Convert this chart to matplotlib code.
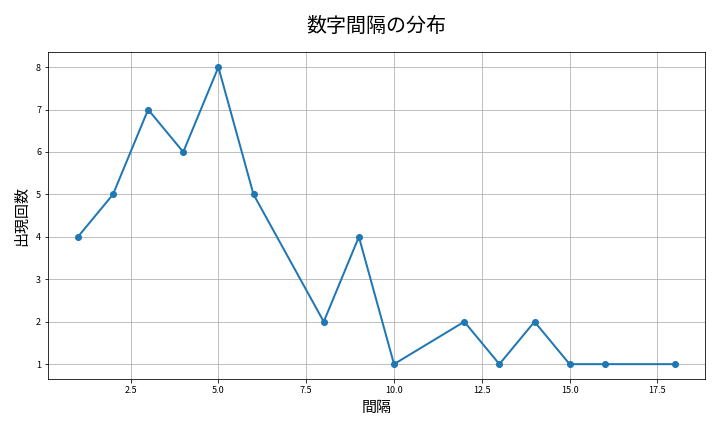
import matplotlib
matplotlib.use("Agg")
import matplotlib.pyplot as plt

plt.rcParams['font.family'] = ['Noto Sans CJK JP', 'DejaVu Sans']

gaps = [1, 2, 3, 4, 5, 6, 8, 9, 10, 12, 13, 14, 15, 16, 18]
counts = [4, 5, 7, 6, 8, 5, 2, 4, 1, 2, 1, 2, 1, 1, 1]

fig, ax = plt.subplots(figsize=(10, 6), dpi=72)
ax.plot(gaps, counts, marker='o', color='#1f77b4', linewidth=2, markersize=6)
ax.set_title('数字間隔の分布', fontsize=20, pad=20)
ax.set_xlabel('間隔', fontsize=15, labelpad=6)
ax.set_ylabel('出現回数', fontsize=15, labelpad=7)
ax.tick_params(labelsize=9)
ax.grid(True)
fig.subplots_adjust(left=0.0667, right=0.979, top=0.879, bottom=0.1227)
fig.savefig('out.png', dpi=72)
